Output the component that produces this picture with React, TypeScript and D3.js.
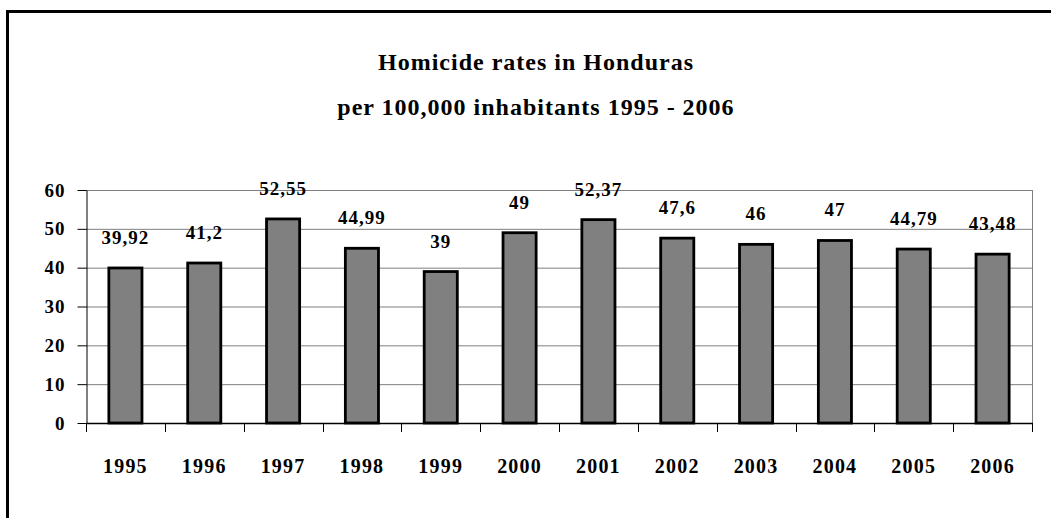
import { useRef, useEffect } from 'react'
import * as d3 from 'd3'

const YEARS = ['1995', '1996', '1997', '1998', '1999', '2000', '2001', '2002', '2003', '2004', '2005', '2006']
const RATES = [39.92, 41.2, 52.55, 44.99, 39, 49, 52.37, 47.6, 46, 47, 44.79, 43.48]
const Y_TICKS = [0, 10, 20, 30, 40, 50, 60]
const TITLE_LINES = ['Homicide rates in Honduras', 'per 100,000 inhabitants 1995 - 2006']

const WIDTH = 1051
const HEIGHT = 518
const PLOT = { left: 86, right: 1032, top: 190, bottom: 423 }
const FONT = '"Liberation Serif", "Times New Roman", serif'

function formatLabel(v: number): string {
  return String(v).replace('.', ',')
}

export default function App() {
  const svgRef = useRef<SVGSVGElement>(null)

  useEffect(() => {
    if (!svgRef.current) return
    const svg = d3.select(svgRef.current)
    svg.selectAll('*').remove()

    // outer frame (runs off the right and bottom edge)
    svg
      .append('rect')
      .attr('x', 7.5)
      .attr('y', 11.5)
      .attr('width', WIDTH + 20)
      .attr('height', HEIGHT + 20)
      .attr('fill', 'white')
      .attr('stroke', 'black')
      .attr('stroke-width', 3)

    const title = svg
      .append('text')
      .attr('text-anchor', 'middle')
      .attr('font-family', FONT)
      .attr('font-weight', 'bold')
      .attr('font-size', 24)
      .attr('letter-spacing', 1)
      .attr('fill', 'black')
    TITLE_LINES.forEach((line, i) => {
      title
        .append('tspan')
        .attr('x', 536)
        .attr('y', 70 + i * 45)
        .text(line)
    })

    const x = d3
      .scaleBand()
      .domain(YEARS)
      .range([PLOT.left, PLOT.right])
      .paddingInner(0.58)
      .paddingOuter(0.29)

    const slot = d3.scaleLinear().domain([0, YEARS.length]).range([PLOT.left, PLOT.right])

    const y = d3.scaleLinear().domain([0, 60]).range([PLOT.bottom, PLOT.top])

    // gridlines
    svg
      .append('g')
      .selectAll('line')
      .data(Y_TICKS.filter((t) => t > 0))
      .join('line')
      .attr('x1', PLOT.left)
      .attr('x2', PLOT.right)
      .attr('y1', (t) => y(t) + 0.5)
      .attr('y2', (t) => y(t) + 0.5)
      .attr('stroke', '#7f7f7f')
      .attr('stroke-width', 1)

    // right edge of plot area
    svg
      .append('line')
      .attr('x1', PLOT.right + 0.5)
      .attr('x2', PLOT.right + 0.5)
      .attr('y1', PLOT.top)
      .attr('y2', PLOT.bottom)
      .attr('stroke', '#7f7f7f')

    // Y axis
    svg
      .append('g')
      .attr('transform', `translate(${PLOT.left + 0.5},0)`)
      .call(d3.axisLeft(y).tickValues(Y_TICKS).tickSize(9).tickPadding(12).tickSizeOuter(0))
      .call((axis) => {
        axis.select('.domain').attr('stroke', 'black')
        axis.selectAll('.tick line').attr('stroke', 'black')
        axis
          .selectAll('text')
          .attr('fill', 'black')
          .attr('font-family', FONT)
          .attr('font-weight', 'bold')
          .attr('font-size', 19)
          .attr('letter-spacing', 1)
      })

    // X axis with ticks between categories
    const xAxis = svg.append('g')
    xAxis
      .append('line')
      .attr('x1', PLOT.left)
      .attr('x2', PLOT.right + 1)
      .attr('y1', PLOT.bottom + 0.5)
      .attr('y2', PLOT.bottom + 0.5)
      .attr('stroke', 'black')
      .attr('stroke-width', 1.5)
    xAxis
      .selectAll('line.tick')
      .data(d3.range(YEARS.length + 1))
      .join('line')
      .attr('class', 'tick')
      .attr('x1', (i) => Math.round(slot(i)) + 0.5)
      .attr('x2', (i) => Math.round(slot(i)) + 0.5)
      .attr('y1', PLOT.bottom)
      .attr('y2', PLOT.bottom + 9)
      .attr('stroke', 'black')
    xAxis
      .selectAll('text')
      .data(YEARS)
      .join('text')
      .attr('x', (d) => (x(d) ?? 0) + x.bandwidth() / 2)
      .attr('y', 473)
      .attr('text-anchor', 'middle')
      .attr('font-family', FONT)
      .attr('font-weight', 'bold')
      .attr('font-size', 20)
      .attr('letter-spacing', 1.2)
      .attr('fill', 'black')
      .text((d) => d)

    const data = YEARS.map((year, i) => ({ year, rate: RATES[i] }))

    // bars
    svg
      .append('g')
      .selectAll('rect')
      .data(data)
      .join('rect')
      .attr('x', (d) => x(d.year) ?? 0)
      .attr('y', (d) => y(d.rate))
      .attr('width', x.bandwidth())
      .attr('height', (d) => PLOT.bottom - y(d.rate))
      .attr('fill', '#808080')
      .attr('stroke', 'black')
      .attr('stroke-width', 2.8)

    // value labels
    svg
      .append('g')
      .selectAll('text')
      .data(data)
      .join('text')
      .attr('x', (d) => (x(d.year) ?? 0) + x.bandwidth() / 2)
      .attr('y', (d) => y(d.rate) - 24)
      .attr('text-anchor', 'middle')
      .attr('font-family', FONT)
      .attr('font-weight', 'bold')
      .attr('font-size', 19)
      .attr('letter-spacing', 1)
      .attr('fill', 'black')
      .text((d) => formatLabel(d.rate))
  }, [])

  return (
    <div style={{ position: 'fixed', left: 0, top: 0 }}>
      <svg ref={svgRef} width={WIDTH} height={HEIGHT} style={{ display: 'block', background: 'white' }} />
    </div>
  )
}
